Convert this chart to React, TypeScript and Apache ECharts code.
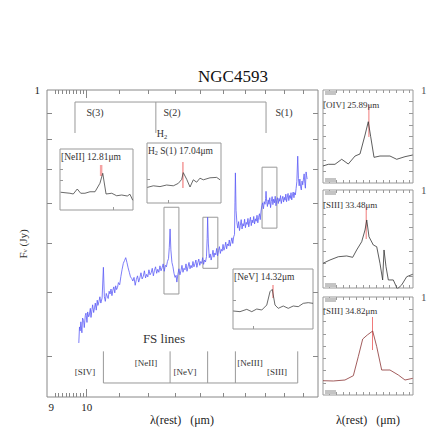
import React, { useEffect, useRef } from "react";
import * as echarts from "echarts";

const SERIF = '"Liberation Serif", "DejaVu Serif", "Times New Roman", serif';

// Main spectrum of NGC4593: [rest wavelength (µm), F_nu (Jy)]
const SPECTRUM: [number, number][] = [
  [9.77, 0.318], [9.79, 0.342], [9.81, 0.336], [9.83, 0.35], [9.86, 0.333], [9.88, 0.356], [9.91, 0.352], [9.93, 0.341],
  [9.96, 0.36], [9.98, 0.364], [10.01, 0.349], [10.03, 0.366], [10.06, 0.358], [10.08, 0.361], [10.11, 0.372], [10.13, 0.357],
  [10.16, 0.37], [10.18, 0.378], [10.21, 0.365], [10.24, 0.374], [10.26, 0.381], [10.29, 0.369], [10.32, 0.386], [10.34, 0.377],
  [10.37, 0.383], [10.4, 0.392], [10.43, 0.381], [10.47, 0.39], [10.51, 0.448], [10.54, 0.392], [10.57, 0.384], [10.6, 0.398],
  [10.63, 0.393], [10.66, 0.389], [10.69, 0.402], [10.72, 0.397], [10.75, 0.406], [10.78, 0.394], [10.81, 0.404], [10.84, 0.41],
  [10.87, 0.399], [10.9, 0.412], [10.93, 0.405], [10.96, 0.409], [10.99, 0.418], [11.03, 0.414], [11.07, 0.43], [11.11, 0.444],
  [11.15, 0.456], [11.19, 0.462], [11.23, 0.468], [11.27, 0.458], [11.31, 0.447], [11.35, 0.438], [11.39, 0.429], [11.43, 0.426],
  [11.47, 0.421], [11.51, 0.428], [11.55, 0.413], [11.59, 0.424], [11.63, 0.431], [11.67, 0.419], [11.71, 0.427], [11.75, 0.437],
  [11.79, 0.425], [11.83, 0.43], [11.87, 0.441], [11.91, 0.427], [11.95, 0.434], [11.99, 0.429], [12.03, 0.443], [12.07, 0.433],
  [12.11, 0.437], [12.15, 0.446], [12.19, 0.431], [12.23, 0.442], [12.27, 0.449], [12.31, 0.436], [12.35, 0.444], [12.39, 0.438],
  [12.43, 0.451], [12.47, 0.441], [12.51, 0.447], [12.55, 0.455], [12.59, 0.44], [12.63, 0.452], [12.67, 0.449], [12.71, 0.46],
  [12.75, 0.466], [12.78, 0.49], [12.81, 0.533], [12.84, 0.485], [12.88, 0.458], [12.92, 0.449], [12.96, 0.436], [13.0, 0.428],
  [13.04, 0.432], [13.07, 0.419], [13.11, 0.434], [13.15, 0.445], [13.19, 0.433], [13.23, 0.441], [13.27, 0.452], [13.31, 0.438],
  [13.35, 0.446], [13.39, 0.443], [13.43, 0.455], [13.47, 0.44], [13.51, 0.449], [13.55, 0.458], [13.59, 0.445], [13.63, 0.452],
  [13.67, 0.447], [13.71, 0.46], [13.75, 0.449], [13.79, 0.455], [13.83, 0.463], [13.87, 0.448], [13.91, 0.458], [13.95, 0.465],
  [13.99, 0.452], [14.03, 0.46], [14.07, 0.456], [14.11, 0.468], [14.15, 0.454], [14.19, 0.463], [14.23, 0.459], [14.27, 0.47],
  [14.3, 0.51], [14.32, 0.562], [14.35, 0.5], [14.39, 0.468], [14.43, 0.476], [14.47, 0.463], [14.51, 0.472], [14.55, 0.484],
  [14.59, 0.469], [14.63, 0.478], [14.67, 0.474], [14.71, 0.488], [14.75, 0.472], [14.79, 0.483], [14.83, 0.492], [14.87, 0.477],
  [14.91, 0.486], [14.95, 0.482], [14.99, 0.497], [15.03, 0.484], [15.07, 0.491], [15.11, 0.502], [15.15, 0.487], [15.19, 0.498],
  [15.23, 0.494], [15.27, 0.507], [15.31, 0.493], [15.35, 0.503], [15.39, 0.512], [15.43, 0.499], [15.47, 0.514], [15.51, 0.52],
  [15.53, 0.6], [15.55, 0.687], [15.58, 0.58], [15.62, 0.548], [15.66, 0.535], [15.7, 0.551], [15.74, 0.529], [15.78, 0.542],
  [15.82, 0.556], [15.86, 0.533], [15.9, 0.546], [15.94, 0.54], [15.98, 0.557], [16.02, 0.536], [16.06, 0.549], [16.1, 0.544],
  [16.14, 0.559], [16.18, 0.538], [16.22, 0.552], [16.26, 0.562], [16.3, 0.541], [16.34, 0.555], [16.38, 0.548], [16.42, 0.564],
  [16.46, 0.545], [16.5, 0.558], [16.54, 0.552], [16.58, 0.567], [16.62, 0.548], [16.66, 0.562], [16.7, 0.571], [16.74, 0.556],
  [16.78, 0.578], [16.82, 0.592], [16.86, 0.6], [16.9, 0.584], [16.94, 0.603], [16.98, 0.596], [17.01, 0.612], [17.03, 0.632],
  [17.06, 0.604], [17.1, 0.59], [17.14, 0.608], [17.18, 0.596], [17.22, 0.614], [17.26, 0.587], [17.3, 0.604], [17.34, 0.617],
  [17.38, 0.595], [17.42, 0.61], [17.46, 0.6], [17.5, 0.618], [17.54, 0.592], [17.58, 0.607], [17.62, 0.614], [17.66, 0.598],
  [17.7, 0.612], [17.74, 0.604], [17.78, 0.62], [17.82, 0.598], [17.86, 0.61], [17.9, 0.618], [17.94, 0.602], [17.98, 0.615],
  [18.02, 0.607], [18.06, 0.624], [18.1, 0.603], [18.14, 0.616], [18.18, 0.626], [18.22, 0.606], [18.26, 0.62], [18.3, 0.612],
  [18.34, 0.628], [18.38, 0.608], [18.42, 0.622], [18.46, 0.63], [18.5, 0.614], [18.54, 0.628], [18.58, 0.622], [18.62, 0.64],
  [18.66, 0.66], [18.71, 0.741], [18.75, 0.67], [18.79, 0.648], [18.83, 0.668], [18.87, 0.645], [18.91, 0.636], [18.95, 0.662],
  [18.99, 0.651], [19.03, 0.668], [19.07, 0.684], [19.11, 0.655], [19.14, 0.641], [19.18, 0.69], [19.21, 0.678], [19.24, 0.668],
];

const X_RANGE = [8.89, 19.87];
const Y_RANGE = [0.249, 1.0];
const X_TICKS_SMALL = [9.1, 9.2, 9.3, 9.4, 9.5, 9.6, 9.7, 9.8, 9.9, 11, 12, 13, 14, 15, 16, 17, 18, 19];
const X_TICKS_BIG = [10];
const X_TICK_LABELS = [9, 10];
const Y_TICKS = [0.3, 0.4, 0.5, 0.6, 0.7, 0.8, 0.9];
const Y_TICK_LABELS = [1];

const H2_LINES = [9.66, 12.28, 17.03];
const H2_BRACKET = [0.823, 0.947];
const FS_LINES = [10.51, 12.81, 14.32, 15.55, 18.71];
const FS_BRACKET = [0.2653, 0.3062];

const BOX_WAVE = [[12.58, 13.15], [14.12, 14.76], [16.83, 17.59]];
const BOX_FLUX = [[0.397, 0.588], [0.446, 0.562], [0.535, 0.705]];

// Zoomed insets
const NEII_WAVE = [12.505, 12.575, 12.6, 12.63, 12.656, 12.688, 12.726, 12.764, 12.801, 12.822, 12.847, 12.89, 12.927, 12.965, 13.007, 13.027, 13.048];
const NEII_FLUX = [0.453, 0.449, 0.446, 0.466, 0.449, 0.449, 0.455, 0.455, 0.489, 0.529, 0.446, 0.449, 0.439, 0.442, 0.438, 0.445, 0.421];
const H2S1_WAVE = [16.703, 16.76, 16.823, 16.886, 16.949, 16.996, 17.028, 17.043, 17.076, 17.107, 17.138, 17.17, 17.201, 17.233, 17.296, 17.359, 17.391];
const H2S1_FLUX = [0.594, 0.598, 0.596, 0.6, 0.598, 0.604, 0.614, 0.631, 0.614, 0.595, 0.613, 0.607, 0.617, 0.613, 0.618, 0.619, 0.613];
const NEV_WAVE = [14.002, 14.056, 14.11, 14.15, 14.19, 14.23, 14.27, 14.296, 14.314, 14.336, 14.362, 14.402, 14.442, 14.482, 14.522, 14.562, 14.602, 14.64];
const NEV_FLUX = [0.464, 0.462, 0.469, 0.462, 0.47, 0.467, 0.482, 0.522, 0.529, 0.482, 0.472, 0.479, 0.472, 0.479, 0.477, 0.487, 0.489, 0.487];

const OIV_WAVE = [25.38, 25.439, 25.513, 25.588, 25.661, 25.736, 25.791, 25.847, 25.883, 25.91, 25.947, 26.013, 26.124, 26.199, 26.291, 26.377];
const OIV_FLUX = [0.183, 0.201, 0.201, 0.255, 0.204, 0.29, 0.312, 0.516, 0.659, 0.498, 0.276, 0.29, 0.29, 0.255, 0.283, 0.301];
const SIII33_WAVE = [33.0, 33.078, 33.17, 33.263, 33.33, 33.374, 33.43, 33.467, 33.486, 33.511, 33.559, 33.597, 33.633, 33.663, 33.678, 33.7, 33.726, 33.781, 33.826, 33.874, 33.93, 33.997];
const SIII33_FLUX = [0.252, 0.286, 0.319, 0.327, 0.313, 0.388, 0.472, 0.592, 0.694, 0.523, 0.439, 0.421, 0.252, 0.082, 0.388, 0.217, 0.082, 0.082, -0.01, 0.031, 0.115, 0.14];
const SIII34_WAVE = [34.27, 34.384, 34.514, 34.607, 34.662, 34.711, 34.762, 34.822, 34.867, 34.922, 35.014, 35.107, 35.181, 35.267];
const SIII34_FLUX = [0.146, 0.143, 0.153, 0.197, 0.391, 0.571, 0.612, 0.653, 0.493, 0.255, 0.255, 0.204, 0.153, 0.17];

const INSETS = [
  { wave: NEII_WAVE, flux: NEII_FLUX, xr: [12.5, 13.05], yr: [0.382, 0.626], line: 12.81, mark: [0.518, 0.562], xt: [12.9], yt: [0.502, 0.546] },
  { wave: H2S1_WAVE, flux: H2S1_FLUX, xr: [16.7, 17.4], yr: [0.555, 0.705], line: 17.04, mark: [0.5925, 0.6575], xt: [16.9], yt: [0.615] },
  { wave: NEV_WAVE, flux: NEV_FLUX, xr: [14.0, 14.64], yr: [0.41, 0.59], line: 14.32, mark: [0.503, 0.542], xt: [14.16], yt: [0.497] },
];
const PANELS = [
  { wave: OIV_WAVE, flux: OIV_FLUX, xr: [25.38, 26.38], line: 25.89, mark: [0.495, 0.839], color: "#333333" },
  { wave: SIII33_WAVE, flux: SIII33_FLUX, xr: [33.0, 34.0], line: 33.48, mark: [0.5, 0.827], color: "#333333" },
  { wave: SIII34_WAVE, flux: SIII34_FLUX, xr: [34.27, 35.27], line: 34.82, mark: [0.459, 0.796], color: "#8a3434" },
];

const GRIDS = [
  { left: 47, top: 90, width: 271, height: 307 },
  { left: 60, top: 149, width: 73, height: 61 },
  { left: 147, top: 143, width: 74, height: 60 },
  { left: 233, top: 269, width: 80, height: 60 },
  { left: 323, top: 90, width: 90, height: 93 },
  { left: 323, top: 190, width: 90, height: 98 },
  { left: 323, top: 297, width: 90, height: 98 },
];

const lg = Math.log10;
const GRAY = "#888888";

function buildOption() {
  const xAxis: any[] = [];
  const yAxis: any[] = [];
  const series: any[] = [];
  const off = { show: false };
  const noLine = { show: false, onZero: false };

  const ln = (xi: number, yi: number, data: any[], color: string, width: number, z = 3) => ({
    type: "line", xAxisIndex: xi, yAxisIndex: yi, data, symbol: "none", showSymbol: false,
    lineStyle: { color, width }, z, silent: true, clip: true,
  });

  const xmin = lg(X_RANGE[0]);
  const xmax = lg(X_RANGE[1]);
  const tickStyle = { color: GRAY, width: 1 };
  const mkX = (pos: string, ticks: number[], len: number, labels: boolean) => ({
    gridIndex: 0, type: "value", position: pos, min: xmin, max: xmax,
    axisLine: noLine, splitLine: off,
    axisTick: { show: true, inside: true, length: len, customValues: ticks.map(lg), lineStyle: tickStyle },
    axisLabel: labels
      ? { show: true, customValues: X_TICK_LABELS.map(lg), formatter: (v: number) => String(Math.round(Math.pow(10, v))), margin: 4, color: "#222", fontSize: 11, fontFamily: SERIF }
      : off,
  });
  xAxis.push(mkX("bottom", X_TICKS_SMALL, 4, true));
  xAxis.push(mkX("bottom", X_TICKS_BIG, 8, false));
  xAxis.push(mkX("top", X_TICKS_SMALL, 4, false));
  xAxis.push(mkX("top", X_TICKS_BIG, 8, false));
  const mkY = (pos: string, labels: boolean) => ({
    gridIndex: 0, type: "value", position: pos, min: lg(Y_RANGE[0]), max: lg(Y_RANGE[1]),
    axisLine: noLine, splitLine: off,
    axisTick: { show: true, inside: true, length: 5, customValues: Y_TICKS.map(lg), lineStyle: tickStyle },
    axisLabel: labels
      ? { show: true, customValues: Y_TICK_LABELS.map(lg), formatter: (v: number) => String(Math.round(Math.pow(10, v))), margin: 7, color: "#222", fontSize: 11, fontFamily: SERIF }
      : off,
  });
  yAxis.push(mkY("left", true));
  yAxis.push(mkY("right", false));

  series.push(ln(0, 0, SPECTRUM.map(([w, f]) => [lg(w), lg(f)]), "#5c5cf6", 0.8, 5));

  BOX_WAVE.forEach((bw, i) => {
    const [w0, w1] = bw.map(lg);
    const [f0, f1] = BOX_FLUX[i].map(lg);
    series.push(ln(0, 0, [[w0, f0], [w1, f0], [w1, f1], [w0, f1], [w0, f0]], "#999999", 1));
  });

  const hb = H2_BRACKET.map(lg);
  series.push(ln(0, 0, [[lg(H2_LINES[0]), hb[0]], [lg(H2_LINES[0]), hb[1]], [lg(H2_LINES[2]), hb[1]], [lg(H2_LINES[2]), hb[0]]], "#999999", 1));
  series.push(ln(0, 0, [[lg(H2_LINES[1]), hb[1]], [lg(H2_LINES[1]), hb[0]]], "#999999", 1));
  const fb = FS_BRACKET.map(lg);
  const last = FS_LINES.length - 1;
  series.push(ln(0, 0, [[lg(FS_LINES[0]), fb[1]], [lg(FS_LINES[0]), fb[0]], [lg(FS_LINES[last]), fb[0]], [lg(FS_LINES[last]), fb[1]]], "#999999", 1));
  FS_LINES.slice(1, last).forEach((w) => series.push(ln(0, 0, [[lg(w), fb[0]], [lg(w), fb[1]]], "#999999", 1)));

  INSETS.forEach((ins, i) => {
    const g = i + 1;
    const xi = xAxis.length;
    const yi = yAxis.length;
    xAxis.push({
      gridIndex: g, type: "value", min: ins.xr[0], max: ins.xr[1], axisLine: noLine, splitLine: off, axisLabel: off,
      axisTick: { show: true, inside: true, length: 3, customValues: ins.xt, lineStyle: { color: "#999" } },
    });
    yAxis.push({
      gridIndex: g, type: "value", min: ins.yr[0], max: ins.yr[1], axisLine: noLine, splitLine: off, axisLabel: off,
      axisTick: { show: true, inside: true, length: 3, customValues: ins.yt, lineStyle: { color: "#999" } },
    });
    series.push(ln(xi, yi, ins.wave.map((w, k) => [w, ins.flux[k]]), "#444444", 0.8, 6));
    series.push(ln(xi, yi, [[ins.line, ins.mark[0]], [ins.line, ins.mark[1]]], i === 0 ? "#f5a3a3" : "#ee6666", i === 0 ? 2.5 : 1, 5));
  });

  PANELS.forEach((p, i) => {
    const g = i + 4;
    const step = (p.xr[1] - p.xr[0]) / 13.5;
    const xt: number[] = [];
    for (let k = 1; k <= 13; k++) xt.push(p.xr[0] + k * step);
    const yt = [0.125, 0.25, 0.375, 0.5, 0.625, 0.75, 0.875];
    const xi = xAxis.length;
    xAxis.push({
      gridIndex: g, type: "value", position: "bottom", min: p.xr[0], max: p.xr[1], axisLine: noLine, splitLine: off, axisLabel: off,
      axisTick: { show: true, inside: true, length: 3, customValues: xt, lineStyle: { color: "#999" } },
    });
    xAxis.push({
      gridIndex: g, type: "value", position: "top", min: p.xr[0], max: p.xr[1], axisLine: noLine, splitLine: off, axisLabel: off,
      axisTick: { show: true, inside: true, length: 3, customValues: xt, lineStyle: { color: "#999" } },
    });
    const yi = yAxis.length;
    yAxis.push({
      gridIndex: g, type: "value", position: "left", min: 0, max: 1, axisLine: noLine, splitLine: off, axisLabel: off,
      axisTick: { show: true, inside: true, length: 3, customValues: yt, lineStyle: { color: "#999" } },
    });
    yAxis.push({
      gridIndex: g, type: "value", position: "right", min: 0, max: 1, axisLine: noLine, splitLine: off,
      axisTick: { show: true, inside: true, length: 4, customValues: yt, lineStyle: { color: "#999" } },
      axisLabel: { show: true, customValues: [1], formatter: () => "1", margin: 8, color: "#555", fontSize: 11, fontFamily: SERIF },
    });
    series.push(ln(xi, yi, p.wave.map((w, k) => [w, p.flux[k]]), p.color, 0.8, 6));
    series.push(ln(xi, yi, [[p.line, p.mark[0]], [p.line, p.mark[1]]], "#f07a7a", 1, 5));
  });

  const t = (text: string, x: number, y: number, size: number, extra: any = {}) => ({
    type: "text", x, y, silent: true, z: 20,
    style: { text, fill: extra.fill || "#333", fontSize: size, fontFamily: SERIF, align: extra.align || "center", verticalAlign: "middle", rich: extra.rich },
    rotation: extra.rotation || 0,
  });
  const subRich = (size: number) => ({
    n: { fontSize: size, lineHeight: size + 1, fontFamily: SERIF, fill: "#333", verticalAlign: "top" },
    s: { fontSize: size * 0.65, lineHeight: size * 0.7, padding: [size * 0.45, 0, 0, 0], fontFamily: SERIF, fill: "#333", verticalAlign: "top" },
  });

  const graphic: any[] = [
    t("NGC4593", 233, 76, 17, { fill: "#111" }),
    t("S(3)", 95, 112, 10),
    t("S(2)", 172, 112, 10),
    t("S(1)", 284, 112, 10),
    t("{n|H}{s|2}", 162, 134, 10, { rich: subRich(10) }),
    t("FS lines", 164, 338, 13),
    t("[SIV]", 85, 372, 9),
    t("[NeII]", 146, 363, 9),
    t("[NeV]", 185, 372, 9),
    t("[NeIII]", 250, 363, 9),
    t("[SIII]", 277, 372, 9),
    t("[NeII] 12.81μm", 61, 157, 9.5, { align: "left" }),
    t("{n|H}{s|2}{n| S(1) 17.04μm}", 148, 151, 9.5, { align: "left", rich: subRich(9.5) }),
    t("[NeV] 14.32μm", 234, 277, 9.5, { align: "left" }),
    t("[OIV] 25.89μm", 323, 105, 9, { align: "left" }),
    t("[SIII] 33.48μm", 323, 205, 9, { align: "left" }),
    t("[SIII] 34.82μm", 323, 311, 9, { align: "left" }),
    t("λ(rest)   (μm)", 182, 420, 12, { fill: "#222" }),
    t("λ(rest)   (μm)", 368, 420, 12, { fill: "#222" }),
    t("{n|F}{s|ν}{n| (Jy)}", 23, 244, 11, { rotation: Math.PI / 2, rich: subRich(11) }),
  ];
  GRIDS.slice(4).forEach((g) => {
    graphic.push({ type: "rect", silent: true, z: 15, shape: { x: 325, y: g.top + 1, width: 11, height: 4 }, style: { fill: "#c4c4c4" } });
    graphic.push({ type: "rect", silent: true, z: 15, shape: { x: 325, y: g.top + g.height - 5, width: 11, height: 4 }, style: { fill: "#c4c4c4" } });
  });

  return {
    animation: false,
    backgroundColor: "#ffffff",
    grid: GRIDS.map((g, i) => ({
      ...g, show: true, borderColor: i === 0 ? GRAY : "#999999", borderWidth: 1, backgroundColor: "transparent", containLabel: false,
    })),
    xAxis,
    yAxis,
    series,
    graphic,
  };
}

export default function App() {
  const ref = useRef<HTMLDivElement>(null);
  useEffect(() => {
    if (!ref.current) return;
    const chart = echarts.init(ref.current, undefined, { renderer: "svg" });
    chart.setOption(buildOption() as any);
    return () => chart.dispose();
  }, []);
  return (
    <div
      ref={ref}
      style={{ position: "absolute", left: 0, top: 0, width: 436, height: 436, background: "#fff" }}
    />
  );
}
